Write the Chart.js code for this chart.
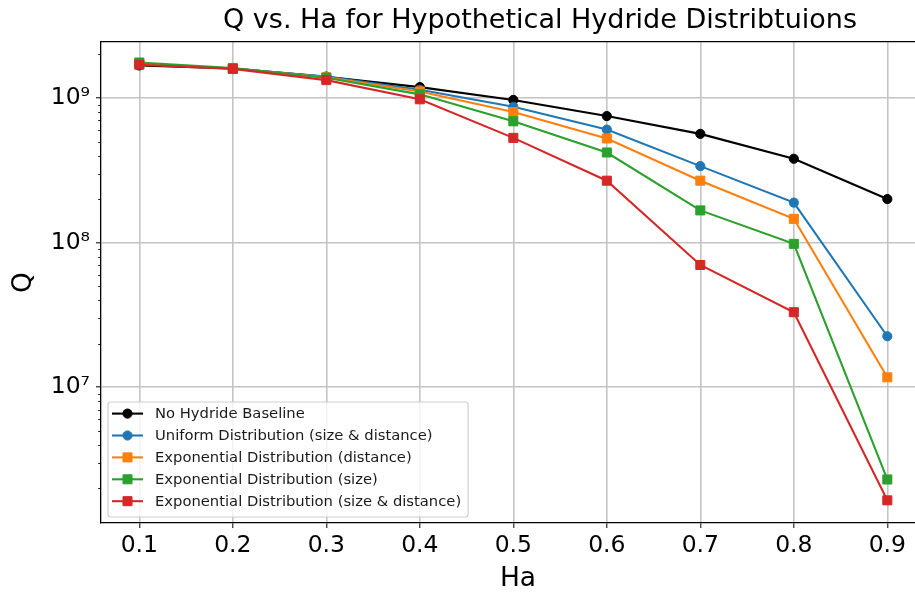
<!DOCTYPE html>
<html>
<head>
<meta charset="utf-8">
<script src="https://cdn.jsdelivr.net/npm/chart.js@4/dist/chart.umd.min.js"></script>
<style>
  html, body { margin: 0; padding: 0; background: #fff; overflow: hidden; }
  #wrap { width: 915px; height: 592px; overflow: hidden; position: relative; }
  #box { width: 935px; height: 592px; position: absolute; left: 0; top: 0; }
</style>
</head>
<body>
<div id="wrap"><div id="box"><canvas id="chart"></canvas></div></div>
<script>
// values
const ha = [0.1, 0.2, 0.3, 0.4, 0.5, 0.6, 0.7, 0.8, 0.9];
const noHydride = [1.68e9, 1.60e9, 1.40e9, 1.19e9, 9.7e8, 7.5e8, 5.65e8, 3.8e8, 2.0e8];
const uniformSizeDist = [1.72e9, 1.60e9, 1.41e9, 1.14e9, 8.7e8, 6.05e8, 3.38e8, 1.89e8, 2.25e7];
const expDist = [1.72e9, 1.60e9, 1.39e9, 1.11e9, 8.0e8, 5.25e8, 2.68e8, 1.46e8, 1.17e7];
const expSize = [1.76e9, 1.61e9, 1.38e9, 1.06e9, 6.9e8, 4.2e8, 1.67e8, 9.8e7, 2.3e6];
const expSizeDist = [1.70e9, 1.59e9, 1.33e9, 9.8e8, 5.3e8, 2.68e8, 7.0e7, 3.3e7, 1.65e6];

const yMajorTicks = [1e7, 1e8, 1e9];
const yTickLabels = ['10\u2077', '10\u2078', '10\u2079'];

const FONT = '"DejaVu Sans", sans-serif';

function series(label, values, color, style, order) {
    return {
        label: label,
        data: ha.map((x, i) => ({ x: x, y: values[i] })),
        borderColor: color,
        backgroundColor: color,
        borderWidth: 2.1,
        pointStyle: style,
        pointRadius: style === 'rect' ? 6.4 : 4.6,
        pointBorderWidth: 1,
        pointBackgroundColor: color,
        pointBorderColor: color,
        fill: false,
        tension: 0,
        order: order
    };
}

// minor log ticks and the legend inside the plot
const extras = {
    id: 'extras',
    afterLayout(chart) {
        // the original title sits centred on a wider figure than the visible crop
        chart.titleBlock.left = 1080 - chart.width;
        chart.titleBlock.right = chart.width;
    },
    afterDraw(chart) {
        const ctx = chart.ctx;
        const area = chart.chartArea;
        const ys = chart.scales.y;
        ctx.save();

        ctx.strokeStyle = '#000';
        ctx.lineWidth = 0.9;
        for (let e = 6; e <= 9; e++) {
            for (let k = 2; k <= 9; k++) {
                const v = k * Math.pow(10, e);
                if (v < ys.min || v > ys.max) continue;
                const py = Math.round(ys.getPixelForValue(v)) + 0.5;
                ctx.beginPath();
                ctx.moveTo(area.left - 2.8, py);
                ctx.lineTo(area.left, py);
                ctx.stroke();
            }
        }

        const sets = chart.data.datasets;
        ctx.font = '14.75px ' + FONT;
        const tw = Math.max(...sets.map(d => ctx.measureText(d.label).width));
        const x0 = area.left + 7;
        const h = 115;
        const w = 47 + tw + 7;
        const y0 = area.bottom - 6 - h;
        ctx.beginPath();
        ctx.roundRect(x0, y0, w, h, 3);
        ctx.fillStyle = 'rgba(255,255,255,0.8)';
        ctx.fill();
        ctx.strokeStyle = '#d0d0d0';
        ctx.lineWidth = 1.2;
        ctx.stroke();

        sets.forEach((d, i) => {
            const y = y0 + 11.6 + i * 21.9;
            ctx.strokeStyle = d.borderColor;
            ctx.fillStyle = d.borderColor;
            ctx.lineWidth = d.borderWidth;
            ctx.beginPath();
            ctx.moveTo(x0 + 4, y);
            ctx.lineTo(x0 + 35, y);
            ctx.stroke();
            ctx.lineWidth = d.pointBorderWidth;
            Chart.helpers.drawPoint(ctx, {
                pointStyle: d.pointStyle,
                radius: d.pointRadius,
                borderWidth: d.pointBorderWidth,
                rotation: 0
            }, x0 + 19.5, y);
            ctx.fillStyle = '#1a1a1a';
            ctx.textAlign = 'left';
            ctx.textBaseline = 'middle';
            ctx.fillText(d.label, x0 + 47, y + 0.5);
        });
        ctx.restore();
    }
};

new Chart(document.getElementById('chart'), {
    type: 'line',
    data: {
        datasets: [
            series('No Hydride Baseline', noHydride, '#000000', 'circle', 4),
            series('Uniform Distribution (size & distance)', uniformSizeDist, '#1f77b4', 'circle', 3),
            series('Exponential Distribution (distance)', expDist, '#ff7f0e', 'rect', 2),
            series('Exponential Distribution (size)', expSize, '#2ca02c', 'rect', 1),
            series('Exponential Distribution (size & distance)', expSizeDist, '#d62728', 'rect', 0)
        ]
    },
    options: {
        responsive: true,
        maintainAspectRatio: false,
        animation: false,
        devicePixelRatio: 1,
        events: [],
        layout: { padding: 0, autoPadding: false },
        plugins: {
            legend: { display: false },
            tooltip: { enabled: false },
            title: {
                display: true,
                text: 'Q vs. Ha for Hypothetical Hydride Distribtuions',
                color: '#000',
                font: { family: FONT, size: 27, weight: 'normal' },
                padding: { top: 5, bottom: 4.6 }
            }
        },
        scales: {
            x: {
                type: 'linear',
                min: 0.059,
                max: 0.951,
                afterFit: s => { s.height = 69; },
                afterBuildTicks: s => { s.ticks = ha.map(v => ({ value: v })); },
                ticks: {
                    autoSkip: false,
                    maxRotation: 0,
                    padding: 4,
                    color: '#000',
                    font: { family: FONT, size: 23.5 },
                    callback: v => v.toFixed(1)
                },
                grid: {
                    color: '#c4c4c4',
                    lineWidth: 1.6,
                    tickLength: 5,
                    tickColor: '#000',
                    tickWidth: 1
                },
                border: { color: '#000', width: 1.3 },
                title: {
                    display: true,
                    text: 'Ha',
                    color: '#000',
                    font: { family: FONT, size: 26.5, lineHeight: 1.05 },
                    padding: { top: 4, bottom: -1 }
                }
            },
            // top spine only
            xTop: {
                type: 'linear',
                position: 'top',
                min: 0.059,
                max: 0.951,
                afterFit: s => { s.height = 0; },
                ticks: { display: false },
                grid: { display: false, drawTicks: false },
                border: { display: true, color: '#000', width: 1.3 }
            },
            y: {
                type: 'logarithmic',
                min: 1.15e6,
                max: 2.44e9,
                afterFit: s => { s.width = 101; },
                afterBuildTicks: s => { s.ticks = yMajorTicks.map(v => ({ value: v, major: true })); },
                ticks: {
                    autoSkip: false,
                    padding: 6,
                    color: '#000',
                    font: { family: FONT, size: 23.5 },
                    callback: v => {
                        const i = yMajorTicks.indexOf(v);
                        return i >= 0 ? yTickLabels[i] : '';
                    }
                },
                grid: {
                    color: '#c4c4c4',
                    lineWidth: 1.6,
                    tickLength: 5,
                    tickColor: '#000',
                    tickWidth: 1
                },
                border: { color: '#000', width: 1.3 },
                title: {
                    display: true,
                    text: 'Q',
                    color: '#000',
                    font: { family: FONT, size: 26.5 },
                    padding: { top: 8.5, bottom: 0 }
                }
            }
        }
    },
    plugins: [extras]
});
</script>
</body>
</html>
